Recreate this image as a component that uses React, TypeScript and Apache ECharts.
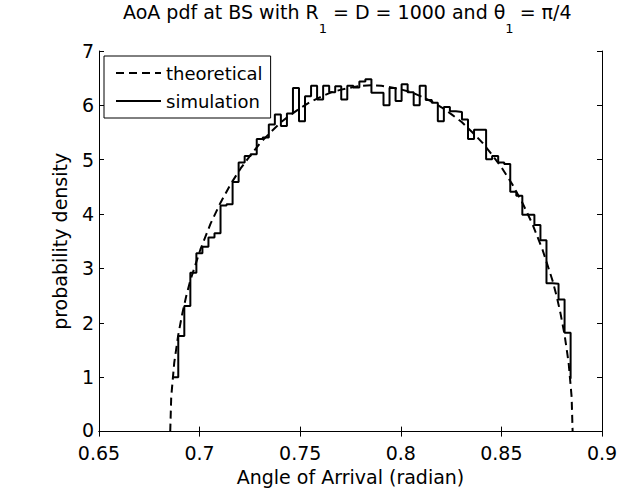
import React, { useEffect, useRef } from "react";
import * as echarts from "echarts";

const FONT = "DejaVu Sans";

// Theoretical AoA pdf (dashed)
const theoryX = [
  0.6854, 0.6859, 0.6874, 0.6894, 0.6914, 0.6934, 0.6954, 0.7004, 0.7054, 0.7104,
  0.7154, 0.7204, 0.7254, 0.7304, 0.7354, 0.7404, 0.7454, 0.7504, 0.7554, 0.7604,
  0.7654, 0.7704, 0.7754, 0.7804, 0.7854, 0.7904, 0.7954, 0.8004, 0.8054, 0.8104,
  0.8154, 0.8204, 0.8254, 0.8304, 0.8354, 0.8404, 0.8454, 0.8504, 0.8554, 0.8604,
  0.8654, 0.8704, 0.8754, 0.8774, 0.8794, 0.8814, 0.8834, 0.8849, 0.8854,
];
const theoryY = [
  0.0, 0.64, 1.27, 1.78, 2.17, 2.5, 2.78, 3.35, 3.82, 4.21,
  4.55, 4.84, 5.09, 5.32, 5.51, 5.69, 5.83, 5.96, 6.07, 6.16,
  6.24, 6.29, 6.33, 6.36, 6.37, 6.36, 6.33, 6.29, 6.24, 6.16,
  6.07, 5.96, 5.83, 5.69, 5.51, 5.32, 5.09, 4.84, 4.55, 4.21,
  3.82, 3.35, 2.78, 2.5, 2.17, 1.78, 1.27, 0.64, 0.0,
];

// Simulated histogram (stairs)
const simX = [
  0.6864, 0.6894, 0.6924, 0.6954, 0.6984, 0.7014, 0.7044, 0.7074, 0.7104, 0.7134,
  0.7164, 0.7194, 0.7224, 0.7254, 0.7284, 0.7314, 0.7344, 0.7374, 0.7404, 0.7434,
  0.7464, 0.7494, 0.7524, 0.7554, 0.7584, 0.7614, 0.7644, 0.7674, 0.7704, 0.7734,
  0.7764, 0.7794, 0.7824, 0.7854, 0.7884, 0.7914, 0.7944, 0.7974, 0.8004, 0.8034,
  0.8064, 0.8094, 0.8124, 0.8154, 0.8184, 0.8214, 0.8244, 0.8274, 0.8304, 0.8334,
  0.8364, 0.8394, 0.8424, 0.8454, 0.8484, 0.8514, 0.8544, 0.8574, 0.8604, 0.8634,
  0.8664, 0.8694, 0.8724, 0.8754, 0.8784, 0.8814, 0.8844,
];
const simY = [
  1.0, 1.76, 2.31, 2.92, 3.28, 3.4, 3.57, 3.65, 4.16, 4.18,
  4.59, 4.95, 5.07, 5.1, 5.38, 5.41, 5.65, 5.83, 5.62, 5.85,
  6.32, 5.71, 6.17, 6.36, 6.11, 6.36, 6.24, 6.35, 6.11, 6.36,
  6.33, 6.44, 6.48, 6.23, 6.23, 6.0, 6.32, 6.08, 6.39, 6.24,
  6.0, 6.36, 6.1, 6.05, 5.71, 5.97, 5.89, 5.88, 5.74, 5.38,
  5.55, 5.55, 5.01, 5.07, 4.95, 4.92, 4.41, 4.34, 3.99, 3.99,
  3.8, 3.52, 2.73, 2.72, 2.43, 1.82, 0.97,
];

const seriesNames = ["theoretical", "simulation"];
const xTickLabels = ["0.65", "0.7", "0.75", "0.8", "0.85", "0.9"];
const yTickLabels = ["0", "1", "2", "3", "4", "5", "6", "7"];

export default function App() {
  const ref = useRef<HTMLDivElement>(null);

  useEffect(() => {
    document.body.style.margin = "0";
    const chart = echarts.init(ref.current as HTMLDivElement, null, { renderer: "svg" });

    const axisLine = { show: true, lineStyle: { color: "#000", width: 1 } };
    const axisTick = { show: true, inside: true, length: 5, lineStyle: { color: "#000", width: 1 } };
    const labelStyle = { fontFamily: FONT, fontSize: 19, color: "#000", fontWeight: "normal" };

    const option: any = {
      animation: false,
      backgroundColor: "#fff",
      title: {
        text: "{m|AoA pdf at BS with R}{s|1}{m| = D = 1000 and θ}{s|1}{m| = π/4}",
        left: 123,
        top: 2,
        padding: 0,
        textStyle: {
          fontWeight: "normal",
          rich: {
            m: { fontFamily: FONT, fontSize: 19, fontWeight: "normal", color: "#000", lineHeight: 24, verticalAlign: "top" },
            s: { fontFamily: FONT, fontSize: 13, fontWeight: "normal", color: "#000", lineHeight: 16, padding: [20, 0, 0, 0], verticalAlign: "top" },
          },
        },
      },
      legend: {
        data: seriesNames,
        orient: "vertical",
        left: 104,
        top: 56,
        padding: [8, 8, 8, 11],
        itemGap: 10,
        itemWidth: 45,
        itemHeight: 14,
        backgroundColor: "#fff",
        borderColor: "#000",
        borderWidth: 1,
        borderRadius: 0,
        itemStyle: { color: "rgba(0,0,0,0)", borderWidth: 0, borderColor: "rgba(0,0,0,0)" },
        textStyle: { fontFamily: FONT, fontSize: 18, color: "#000", lineHeight: 18 },
      },
      grid: { left: 99, right: 25, top: 51, bottom: 56, containLabel: false },
      xAxis: [
        {
          type: "value",
          position: "bottom",
          min: 0.65,
          max: 0.9,
          interval: 0.05,
          name: "Angle of Arrival (radian)",
          nameLocation: "middle",
          nameGap: 30,
          nameTextStyle: labelStyle,
          axisLine,
          axisTick,
          axisLabel: {
            ...labelStyle,
            lineHeight: 14,
            margin: 14,
            formatter: (v: number) => {
              const idx = Math.round((v - 0.65) / 0.05);
              return xTickLabels[idx] ?? String(v);
            },
          },
          splitLine: { show: false },
        },
        {
          type: "value",
          position: "top",
          min: 0.65,
          max: 0.9,
          interval: 0.05,
          axisLine,
          axisTick,
          axisLabel: { show: false },
          splitLine: { show: false },
        },
      ],
      yAxis: [
        {
          type: "value",
          position: "left",
          min: 0,
          max: 7,
          interval: 1,
          name: "probability density",
          nameLocation: "middle",
          nameGap: 30,
          nameTextStyle: labelStyle,
          axisLine,
          axisTick,
          axisLabel: {
            ...labelStyle,
            lineHeight: 14,
            margin: 5,
            formatter: (v: number) => {
              const t = yTickLabels[Math.round(v)] ?? String(v);
              return Math.round(v) === 0 ? "{z|" + t + "}" : t;
            },
            rich: {
              z: { fontFamily: FONT, fontSize: 19, color: "#000", lineHeight: 14, padding: [0, 0, 4, 0] },
            },
          },
          splitLine: { show: false },
        },
        {
          type: "value",
          position: "right",
          min: 0,
          max: 7,
          interval: 1,
          axisLine,
          axisTick,
          axisLabel: { show: false },
          splitLine: { show: false },
        },
      ],
      series: [
        {
          name: seriesNames[0],
          type: "line",
          xAxisIndex: 0,
          yAxisIndex: 0,
          data: theoryX.map((x, i) => [x, theoryY[i]]),
          symbol: "none",
          lineStyle: { color: "#000", width: 2, type: [8, 5] },
          itemStyle: { color: "#000" },
          z: 2,
        },
        {
          name: seriesNames[1],
          type: "line",
          step: "end",
          xAxisIndex: 0,
          yAxisIndex: 0,
          data: simX.map((x, i) => [x, simY[i]]),
          symbol: "none",
          lineStyle: { color: "#000", width: 2, type: "solid" },
          itemStyle: { color: "#000" },
          z: 3,
        },
      ],
    };

    chart.setOption(option);
    return () => chart.dispose();
  }, []);

  return <div ref={ref} style={{ width: 627, height: 491 }} />;
}
